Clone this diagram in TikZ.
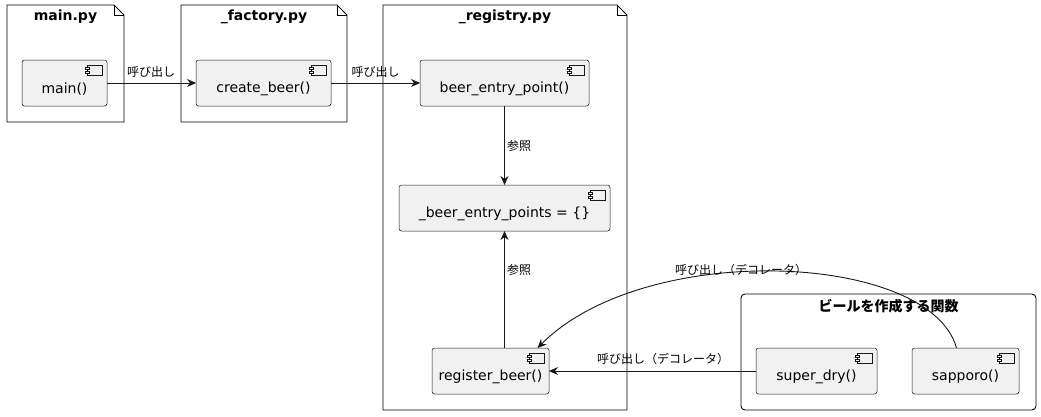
\documentclass[tikz,border=0pt]{standalone}
\usepackage{fontspec}
\setmainfont{DejaVu Sans}
\newfontfamily\cjk{Noto Sans CJK JP}
\usetikzlibrary{arrows.meta,calc}
\definecolor{ln}{HTML}{181818}
\definecolor{cf}{HTML}{F1F1F1}
\newcommand\cicon[1]{%
  \draw[draw=ln, fill=cf, line width=0.5pt] ($(#1.north east)+(-20,5)$) rectangle ++(15,10);
  \draw[draw=ln, fill=cf, line width=0.5pt] ($(#1.north east)+(-22,7)$) rectangle ++(4,2);
  \draw[draw=ln, fill=cf, line width=0.5pt] ($(#1.north east)+(-22,11)$) rectangle ++(4,2);}
\begin{document}
\begin{tikzpicture}[x=1pt,y=-1pt,
  comp/.style={draw=ln, fill=cf, rounded corners=2.5pt, line width=0.5pt, outer sep=0pt, minimum height=46pt, inner sep=0pt},
  ctext/.style={font=\fontsize{14}{16}\selectfont, inner sep=0pt},
  pkg/.style={draw=black, line width=0.9pt, line join=miter},
  ptitle/.style={font=\fontsize{14}{16}\selectfont\bfseries, inner sep=0pt},
  gtitle/.style={font=\cjk\bfseries\fontsize{14}{16}\selectfont, inner sep=0pt},
  lbl/.style={font=\cjk\fontsize{12}{14}\selectfont, inner sep=0pt},
  arr/.style={draw=ln, line width=0.9pt, -{Stealth[length=9pt,width=8pt,inset=3pt]}}
]
\useasboundingbox[fill=white] (0,0) rectangle (1041,416);

% packages
\draw[pkg] (7,5) -- (114,5) -- (124,15) -- (124,122) -- (7,122) -- cycle;
\draw[pkg] (114,5) -- (114,15) -- (124,15);
\node[ptitle] (tmain) at (65.5,17) {main.py};

\draw[pkg] (181,5) -- (337,5) -- (347,15) -- (347,122) -- (181,122) -- cycle;
\draw[pkg] (337,5) -- (337,15) -- (347,15);
\node[ptitle] (tfac) at (264,17) {\_factory.py};

\draw[pkg] (383,5) -- (617,5) -- (627,15) -- (627,410) -- (383,410) -- cycle;
\draw[pkg] (617,5) -- (617,15) -- (627,15);
\node[ptitle] (treg) at (505,17) {\_registry.py};

\draw[pkg, rounded corners=4pt] (741,294) rectangle (1036,410);
\node[gtitle] (tgrp) at (888.5,306) {ビールを作成する関数};

% components
\node[comp, minimum width=85pt] (main) at (64.5,83) {};
\node[ctext] (main-t) at ([yshift=-6pt]main.center) {main()};
\cicon{main}
\node[comp, minimum width=135pt] (cb) at (263.5,83) {};
\node[ctext] (cb-t) at ([yshift=-6pt]cb.center) {create\_beer()};
\cicon{cb}
\node[comp, minimum width=169pt] (bep) at (504.5,83) {};
\node[ctext] (bep-t) at ([yshift=-6pt]bep.center) {beer\_entry\_point()};
\cicon{bep}
\node[comp, minimum width=211pt] (beps) at (504.5,208) {};
\node[ctext] (beps-t) at ([yshift=-6pt]beps.center) {\_beer\_entry\_points = \{\}};
\cicon{beps}
\node[comp, minimum width=117pt] (reg) at (490.5,371) {};
\node[ctext] (reg-t) at ([yshift=-6pt]reg.center) {register\_beer()};
\cicon{reg}
\node[comp, minimum width=121pt] (sd) at (816.5,371) {};
\node[ctext] (sd-t) at ([yshift=-6pt]sd.center) {super\_dry()};
\cicon{sd}
\node[comp, minimum width=107pt] (sap) at (965.5,371) {};
\node[ctext] (sap-t) at ([yshift=-6pt]sap.center) {sapporo()};
\cicon{sap}

% connectors
\draw[arr] (main.east) -- (cb.west);
\node[lbl] (l1) at (151,72) {呼び出し};
\draw[arr] (cb.east) -- (bep.west);
\node[lbl] (l2) at (375.5,72) {呼び出し};
\draw[arr] (bep.south) -- (beps.north);
\node[lbl, anchor=west] (l3) at (507,146) {参照};
\draw[arr] ($(reg.north)+(14,0)$) -- ($(beps.south)$);
\node[lbl, anchor=west] (l4) at (507,270) {参照};
\draw[arr] (sd.west) -- (reg.east);
\node[lbl] (l5) at (663,359) {呼び出し（デコレータ）};
\draw[arr] ($(sap.north)+(-9,0)$) .. controls (930,252) and (645,240) .. ($(reg.north)+(47,0)$);
\node[lbl] (l6) at (741,270) {呼び出し（デコレータ）};
\end{tikzpicture}
\end{document}
